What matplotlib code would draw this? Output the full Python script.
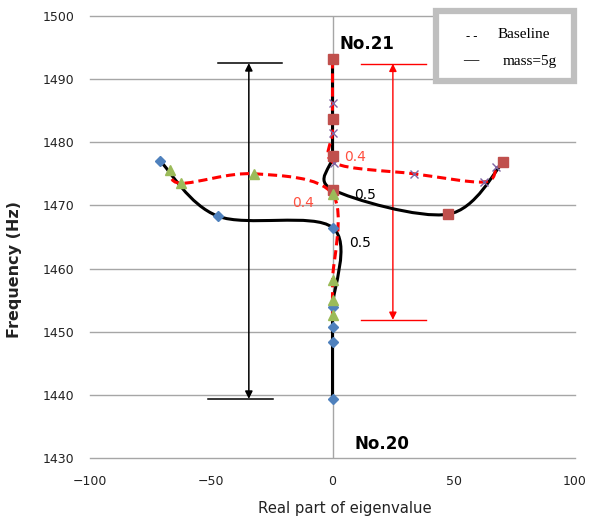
import numpy as np
import matplotlib
matplotlib.use("Agg")
import matplotlib.pyplot as plt
from matplotlib.path import Path
from matplotlib.patches import PathPatch, Rectangle

# mode No.20, mass=5g (blue diamonds)
m20_mass_x = [0, 0, 0, 0, 0, -47.3, -71.0]
m20_mass_y = [1439.4, 1448.4, 1450.8, 1454.0, 1466.5, 1468.3, 1477.0]
# mode No.21, mass=5g (red squares)
m21_mass_x = [0, 0, 0, 0, 47.6, 70.5]
m21_mass_y = [1493.1, 1483.6, 1477.8, 1472.5, 1468.6, 1476.9]
# mode No.20, baseline (green triangles)
m20_base_x = [0, 0, 0, 0, -32.2, -62.4, -66.9]
m20_base_y = [1452.6, 1455.0, 1458.2, 1471.8, 1475.0, 1473.5, 1475.6]
# mode No.21, baseline (purple crosses)
m21_base_x = [0, 0, 0, 0.8, 33.5, 62.3, 67.5]
m21_base_y = [1493.1, 1486.2, 1481.5, 1476.7, 1475.0, 1473.7, 1476.0]

xticks = [-100, -50, 0, 50, 100]
yticks = [1430, 1440, 1450, 1460, 1470, 1480, 1490, 1500]


def smooth_path(xs, ys):
    # excel-like smoothed line (catmull-rom bezier through the points)
    pts = np.column_stack([xs, ys]).astype(float)
    n = len(pts)
    verts = [pts[0]]
    codes = [Path.MOVETO]
    for i in range(n - 1):
        p0 = pts[max(i - 1, 0)]
        p1 = pts[i]
        p2 = pts[i + 1]
        p3 = pts[min(i + 2, n - 1)]
        verts += [p1 + (p2 - p0) / 6, p2 - (p3 - p1) / 6, p2]
        codes += [Path.CURVE4] * 3
    return Path(verts, codes)


fig = plt.figure(figsize=(5.89, 5.17), dpi=100)
ax = fig.add_axes([90 / 589, 58.7 / 517, 485 / 589, 442.6 / 517])
ax.set_xlim(-100, 100)
ax.set_ylim(1430, 1500)
for s in ax.spines.values():
    s.set_visible(False)
ax.set_xticks(xticks)
ax.set_yticks(yticks)
ax.tick_params(length=0, labelsize=9, colors="#222222")
ax.tick_params(axis="x", pad=12)
ax.tick_params(axis="y", pad=11)
ax.yaxis.grid(True, color="#a6a6a6", lw=1)
for gl in ax.get_ygridlines():
    gl.set_clip_on(False)
ax.axvline(0, color="#a6a6a6", lw=1, zorder=1)

# smooth lines
for xs, ys in [(m20_mass_x, m20_mass_y), (m21_mass_x, m21_mass_y)]:
    ax.add_patch(PathPatch(smooth_path(xs, ys), fill=False, ec="black", lw=2.2, zorder=3))
for xs, ys in [(m20_base_x, m20_base_y), (m21_base_x, m21_base_y)]:
    ax.add_patch(PathPatch(smooth_path(xs, ys), fill=False, ec="#ff0000", lw=2.2,
                           linestyle=(0, (3, 1.6)), zorder=4))

# markers
ax.plot(m21_base_x, m21_base_y, ls="none", marker="x", ms=6, mew=1, color="#8064a2", zorder=5)
ax.plot(m20_mass_x, m20_mass_y, ls="none", marker="D", ms=5, color="#4f81bd", zorder=6)
ax.plot(m21_mass_x, m21_mass_y, ls="none", marker="s", ms=6.5, color="#c0504d", zorder=6)
ax.plot(m20_base_x, m20_base_y, ls="none", marker="^", ms=7.5, color="#9bbb59", zorder=6)

# range arrows
ax.annotate("", xy=(-34.5, 1492.5), xytext=(-34.5, 1439.4),
            arrowprops=dict(arrowstyle="<|-|>", color="black", lw=1.1,
                            mutation_scale=11, shrinkA=0, shrinkB=0), zorder=2)
ax.plot([-47.4, -21.0], [1492.5, 1492.5], color="black", lw=1.1, zorder=2)
ax.plot([-51.5, -24.7], [1439.4, 1439.4], color="black", lw=1.1, zorder=2)
ax.annotate("", xy=(24.9, 1492.4), xytext=(24.9, 1451.9),
            arrowprops=dict(arrowstyle="<|-|>", color="#ff0000", lw=1,
                            mutation_scale=11, shrinkA=0, shrinkB=0), zorder=2)
ax.plot([11.8, 38.4], [1492.4, 1492.4], color="#ff0000", lw=1, zorder=2)
ax.plot([11.8, 38.4], [1451.9, 1451.9], color="#ff0000", lw=1, zorder=2)

# annotations
ax.text(2.9, 1495.5, "No.21", fontsize=12, fontweight="bold", va="center", ha="left")
ax.text(9.0, 1432.2, "No.20", fontsize=12, fontweight="bold", va="center", ha="left")
ax.text(4.9, 1477.6, "0.4", fontsize=10, color="#ff5040", va="center", ha="left", zorder=7)
ax.text(-16.6, 1470.4, "0.4", fontsize=10, color="#ff5040", va="center", ha="left", zorder=7)
ax.text(9.1, 1471.7, "0.5", fontsize=10, color="black", va="center", ha="left", zorder=7)
ax.text(7.0, 1464.0, "0.5", fontsize=10, color="black", va="center", ha="left", zorder=7)

fig.text(345 / 589, 1 - 508 / 517, "Real part of eigenvalue", fontsize=10.7,
         ha="center", va="center", color="#222222")
fig.text(15 / 589, 1 - 270 / 517, "Frequency (Hz)", fontsize=11.5, fontweight="bold",
         rotation=90, ha="center", va="center", color="#222222")

# legend box
fig.patches.append(Rectangle((436 / 589, 1 - 81 / 517), 138 / 589, 70 / 517,
                             transform=fig.transFigure, facecolor="white",
                             edgecolor="#bfbfbf", lw=4.5, zorder=10))
serif = ["Liberation Serif", "DejaVu Serif"]
fig.text(466 / 589, 1 - 37 / 517, "- -", family=serif, fontsize=9, va="center", zorder=11)
fig.text(498 / 589, 1 - 35 / 517, "Baseline", family=serif, fontsize=11, va="center", zorder=11)
fig.text(463 / 589, 1 - 61 / 517, "\u2014", family=serif, fontsize=11, fontweight="bold",
         va="center", zorder=11)
fig.text(503 / 589, 1 - 61 / 517, "mass=5g", family=serif, fontsize=11, va="center", zorder=11)

fig.savefig("out.png", dpi=100)
